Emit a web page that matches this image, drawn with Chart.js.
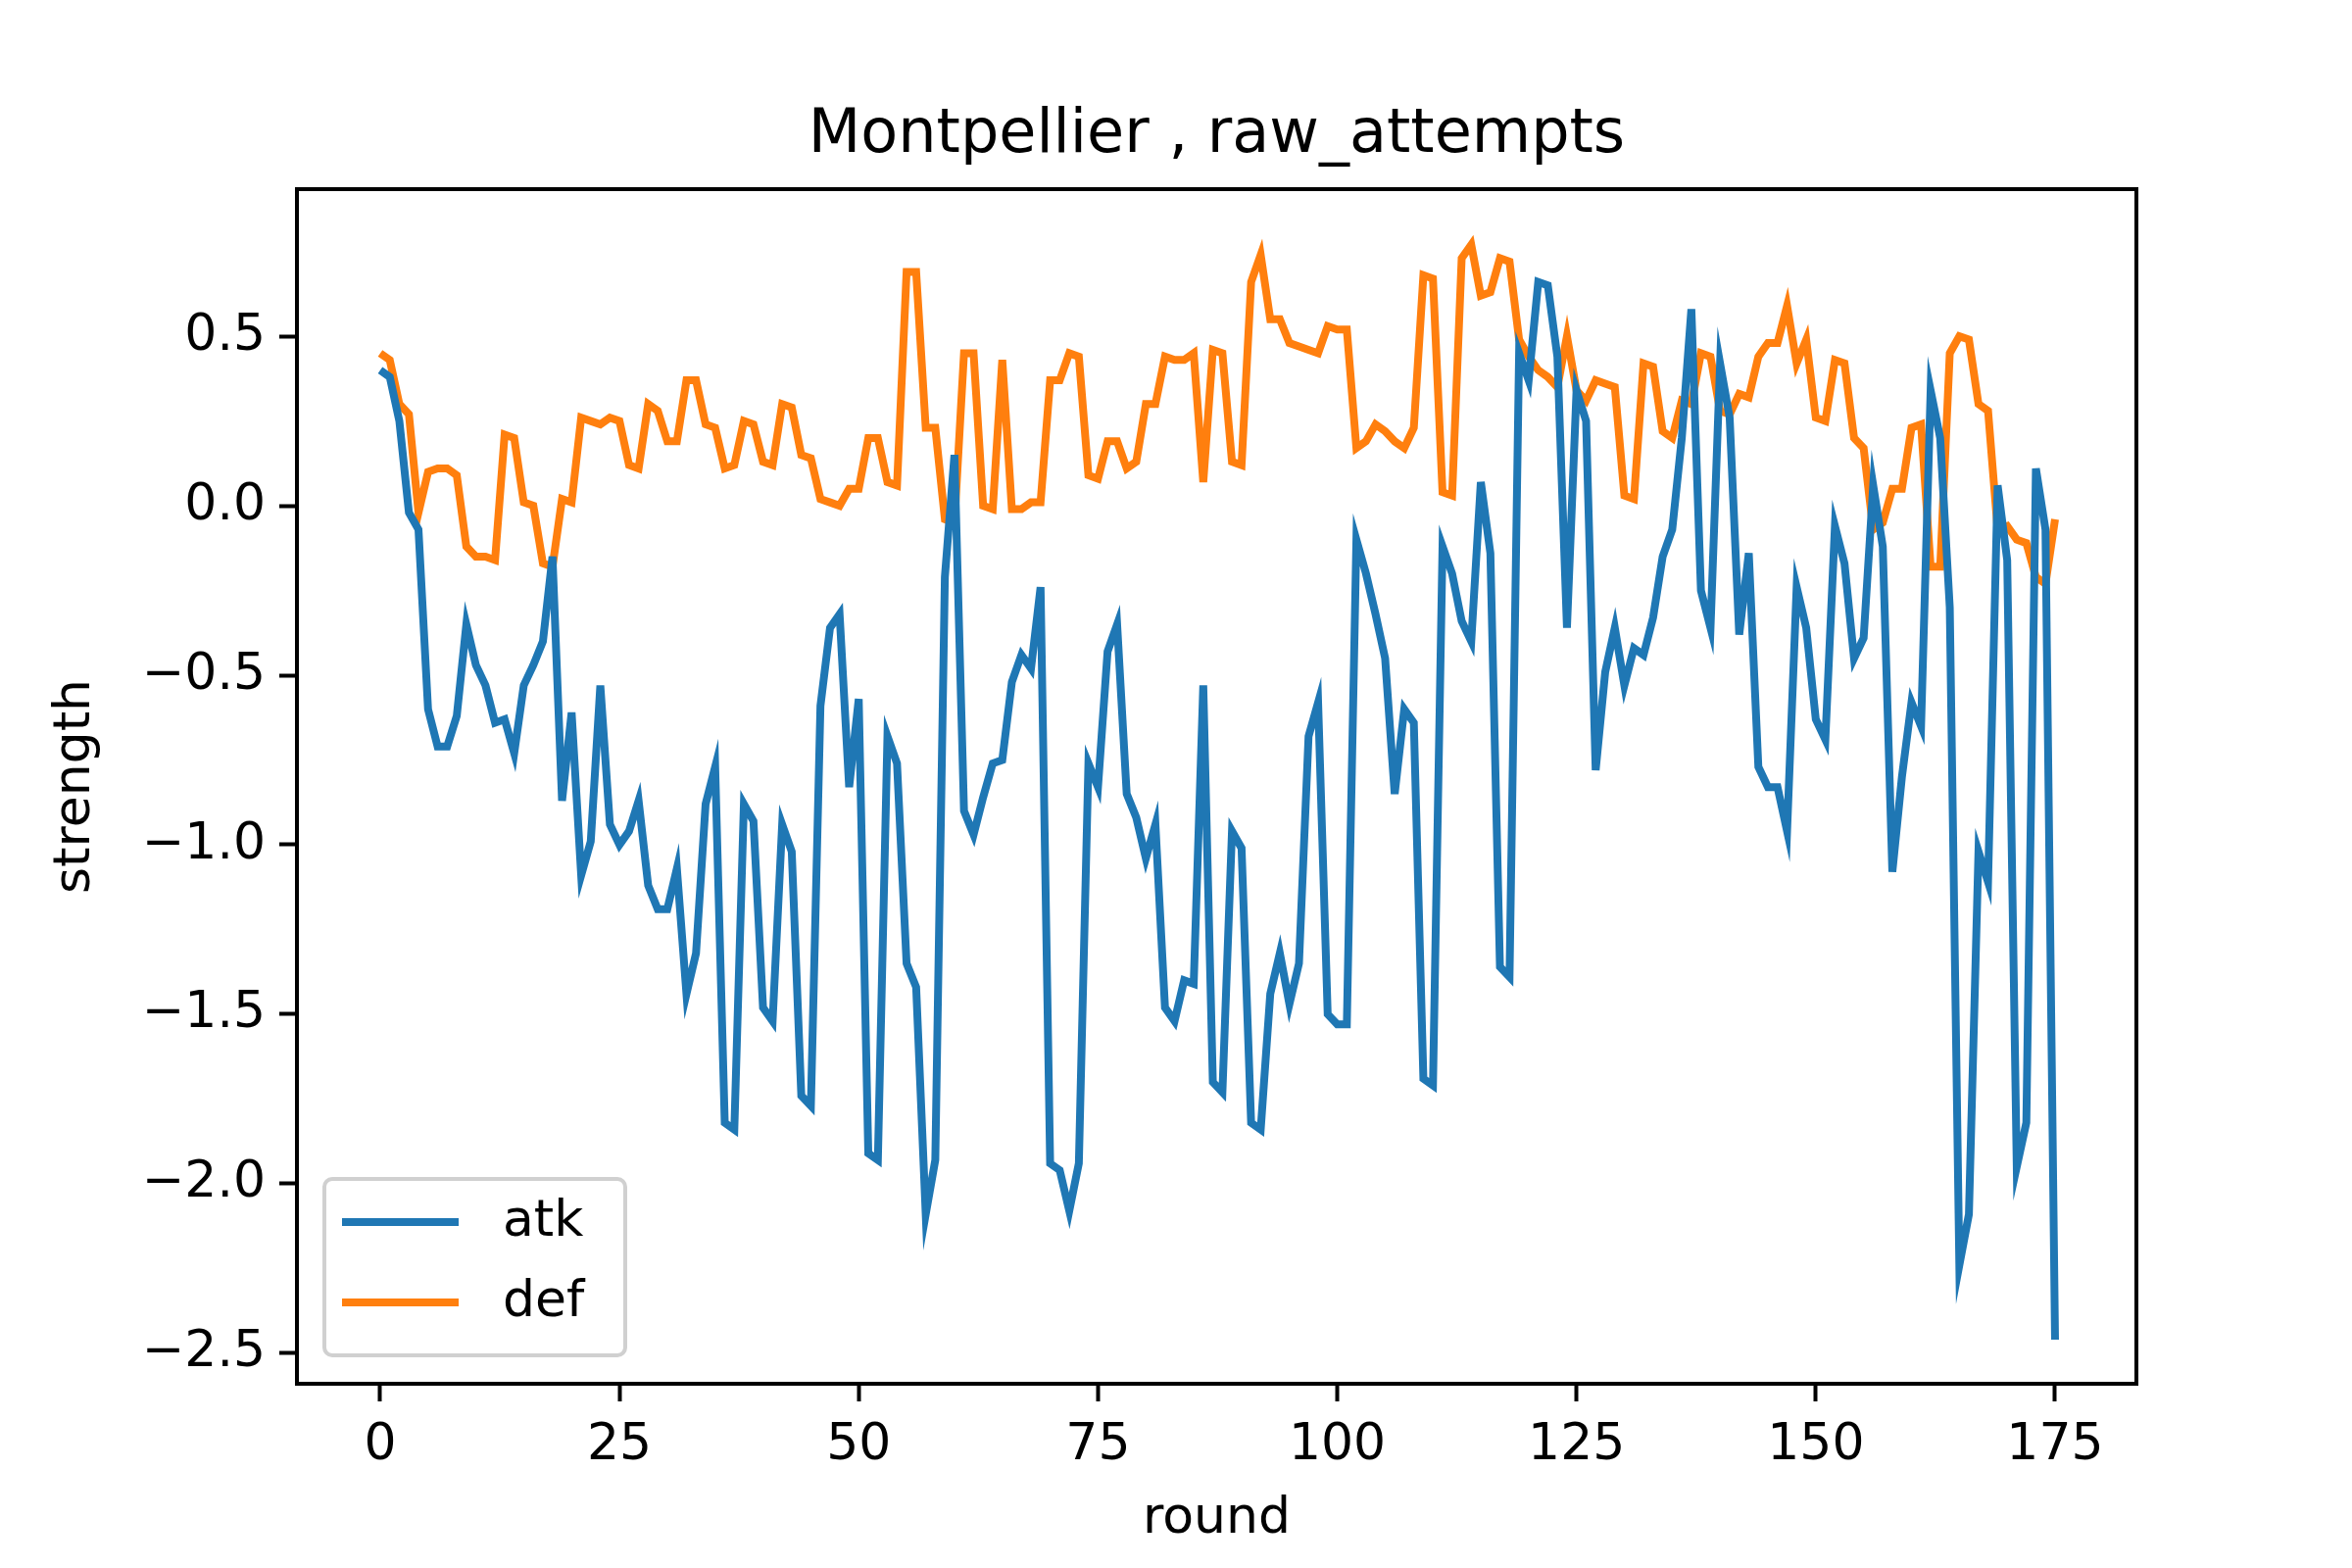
<!DOCTYPE html>
<html><head><meta charset="utf-8">
<script src="https://cdn.jsdelivr.net/npm/chart.js@4.4.0/dist/chart.umd.min.js"></script>
<style>html,body{margin:0;padding:0;background:#fff}#wrap{width:2400px;height:1600px}</style>
</head><body><div id="wrap"><canvas id="c" width="2400" height="1600"></canvas></div>
<script>
const atk = [0.40,0.38,0.25,-0.02,-0.07,-0.60,-0.71,-0.71,-0.62,-0.35,-0.47,-0.53,-0.64,-0.63,-0.73,-0.53,-0.47,-0.40,-0.15,-0.87,
-0.61,-1.09,-0.99,-0.53,-0.94,-1.00,-0.96,-0.87,-1.12,-1.19,-1.19,-1.07,-1.44,-1.32,-0.88,-0.77,-1.82,-1.84,-0.88,-0.93,
-1.48,-1.52,-0.94,-1.02,-1.74,-1.77,-0.59,-0.36,-0.32,-0.83,-0.57,-1.91,-1.93,-0.68,-0.76,-1.35,-1.42,-2.09,-1.93,-0.21,
0.15,-0.90,-0.97,-0.86,-0.76,-0.75,-0.52,-0.44,-0.48,-0.24,-1.94,-1.96,-2.08,-1.94,-0.76,-0.83,-0.43,-0.35,-0.85,-0.92,
-1.04,-0.94,-1.48,-1.52,-1.40,-1.41,-0.53,-1.70,-1.73,-0.96,-1.01,-1.82,-1.84,-1.44,-1.32,-1.47,-1.35,-0.68,-0.58,-1.50,
-1.53,-1.53,-0.10,-0.20,-0.32,-0.45,-0.85,-0.60,-0.64,-1.69,-1.71,-0.12,-0.20,-0.34,-0.40,0.07,-0.14,-1.36,-1.39,0.45,
0.37,0.66,0.65,0.44,-0.36,0.34,0.25,-0.78,-0.49,-0.36,-0.53,-0.42,-0.44,-0.33,-0.15,-0.07,0.20,0.58,-0.25,-0.36,
0.42,0.26,-0.38,-0.14,-0.77,-0.83,-0.83,-0.96,-0.24,-0.36,-0.63,-0.69,-0.06,-0.17,-0.45,-0.39,0.06,-0.12,-1.08,-0.80,
-0.58,-0.65,0.34,0.20,-0.30,-2.24,-2.09,-1.02,-1.11,0.06,-0.16,-1.95,-1.82,0.11,-0.07,-2.46];
const def = [0.45,0.43,0.30,0.27,-0.02,0.10,0.11,0.11,0.09,-0.12,-0.15,-0.15,-0.16,0.21,0.20,0.01,0.00,-0.17,-0.18,0.02,
0.01,0.26,0.25,0.24,0.26,0.25,0.12,0.11,0.30,0.28,0.19,0.19,0.37,0.37,0.24,0.23,0.11,0.12,0.25,0.24,
0.13,0.12,0.30,0.29,0.15,0.14,0.02,0.01,0.00,0.05,0.05,0.20,0.20,0.07,0.06,0.69,0.69,0.23,0.23,-0.04,
-0.05,0.45,0.45,0.00,-0.01,0.43,-0.01,-0.01,0.01,0.01,0.37,0.37,0.45,0.44,0.09,0.08,0.19,0.19,0.11,0.13,
0.30,0.30,0.44,0.43,0.43,0.45,0.07,0.46,0.45,0.13,0.12,0.66,0.74,0.55,0.55,0.48,0.47,0.46,0.45,0.53,
0.52,0.52,0.17,0.19,0.24,0.22,0.19,0.17,0.23,0.68,0.67,0.04,0.03,0.73,0.77,0.62,0.63,0.73,0.72,0.49,
0.44,0.40,0.38,0.35,0.50,0.34,0.31,0.37,0.36,0.35,0.03,0.02,0.42,0.41,0.22,0.20,0.31,0.30,0.45,0.44,
0.28,0.27,0.33,0.32,0.44,0.48,0.48,0.59,0.42,0.49,0.26,0.25,0.43,0.42,0.20,0.17,-0.07,-0.05,0.05,0.05,
0.23,0.24,-0.18,-0.18,0.45,0.50,0.49,0.30,0.28,-0.07,-0.06,-0.10,-0.11,-0.21,-0.23,-0.04];
const rounds = atk.map((_, i) => i);
const xTicks = [0,25,50,75,100,125,150,175];
const yTicks = [-2.5,-2.0,-1.5,-1.0,-0.5,0.0,0.5];
const seriesNames = ['atk','def'];
const colors = ['#1f77b4','#ff7f0e'];
const FONT = 'DejaVu Sans';

const fmt = v => (v < 0 ? '\u2212' : '') + Math.abs(v).toFixed(1);

const deco = {
  id: 'deco',
  afterDraw(chart) {
    const ctx = chart.ctx, a = chart.chartArea;
    ctx.save();
    ctx.strokeStyle = '#000'; ctx.lineWidth = 4;
    ctx.strokeRect(a.left, a.top, a.right - a.left, a.bottom - a.top);
    ctx.fillStyle = '#000';
    ctx.textAlign = 'center'; ctx.textBaseline = 'middle';
    ctx.font = '62px ' + FONT;
    ctx.fillText('Montpellier , raw_attempts', (a.left + a.right) / 2, 139);
    ctx.font = '52px ' + FONT;
    ctx.fillText('round', (a.left + a.right) / 2, 1550);
    ctx.save();
    ctx.translate(77, (a.top + a.bottom) / 2);
    ctx.rotate(-Math.PI / 2);
    ctx.fillText('strength', 0, 0);
    ctx.restore();
    // legend
    const lx = 331, ly = 1203, lw = 307, lh = 180;
    ctx.fillStyle = 'rgba(255,255,255,0.8)';
    ctx.strokeStyle = '#d0d0d0'; ctx.lineWidth = 4;
    ctx.beginPath();
    if (ctx.roundRect) ctx.roundRect(lx, ly, lw, lh, 8); else ctx.rect(lx, ly, lw, lh);
    ctx.fill(); ctx.stroke();
    const ys = [1247, 1329];
    seriesNames.forEach((n, i) => {
      ctx.strokeStyle = colors[i]; ctx.lineWidth = 8;
      ctx.beginPath(); ctx.moveTo(349, ys[i]); ctx.lineTo(468, ys[i]); ctx.stroke();
      ctx.fillStyle = '#000'; ctx.textAlign = 'left';
      ctx.font = '52px ' + FONT;
      ctx.fillText(n, 513, ys[i]);
    });
    ctx.restore();
  }
};

new Chart(document.getElementById('c'), {
  type: 'line',
  data: {
    datasets: [
      { label: seriesNames[0], data: rounds.map(i => ({x: i, y: atk[i]})), borderColor: colors[0], borderWidth: 8, pointRadius: 0, tension: 0, fill: false },
      { label: seriesNames[1], data: rounds.map(i => ({x: i, y: def[i]})), borderColor: colors[1], borderWidth: 8, pointRadius: 0, tension: 0, fill: false }
    ]
  },
  options: {
    responsive: false, animation: false, devicePixelRatio: 1,
    layout: { padding: { top: 193, right: 220, left: 0, bottom: 0 } },
    plugins: { legend: { display: false }, title: { display: false }, tooltip: { enabled: false } },
    scales: {
      x: {
        type: 'linear', min: -8.7, max: 183.5,
        afterBuildTicks: s => { s.ticks = xTicks.map(v => ({value: v})); },
        afterFit: s => { s.height = 188; },
        grid: { display: true, drawOnChartArea: false, drawTicks: true, tickLength: 18, tickWidth: 4, tickColor: '#000' },
        border: { display: false },
        ticks: { color: '#000', font: { family: FONT, size: 52 }, padding: 14, maxRotation: 0, autoSkip: false, callback: v => String(v) }
      },
      y: {
        type: 'linear', min: -2.59, max: 0.934,
        afterBuildTicks: s => { s.ticks = yTicks.map(v => ({value: v})); },
        afterFit: s => { s.width = 303; },
        grid: { display: true, drawOnChartArea: false, drawTicks: true, tickLength: 18, tickWidth: 4, tickColor: '#000' },
        border: { display: false },
        ticks: { color: '#000', font: { family: FONT, size: 52 }, padding: 14, autoSkip: false, callback: v => fmt(v) }
      }
    }
  },
  plugins: [deco]
});
</script></body></html>
